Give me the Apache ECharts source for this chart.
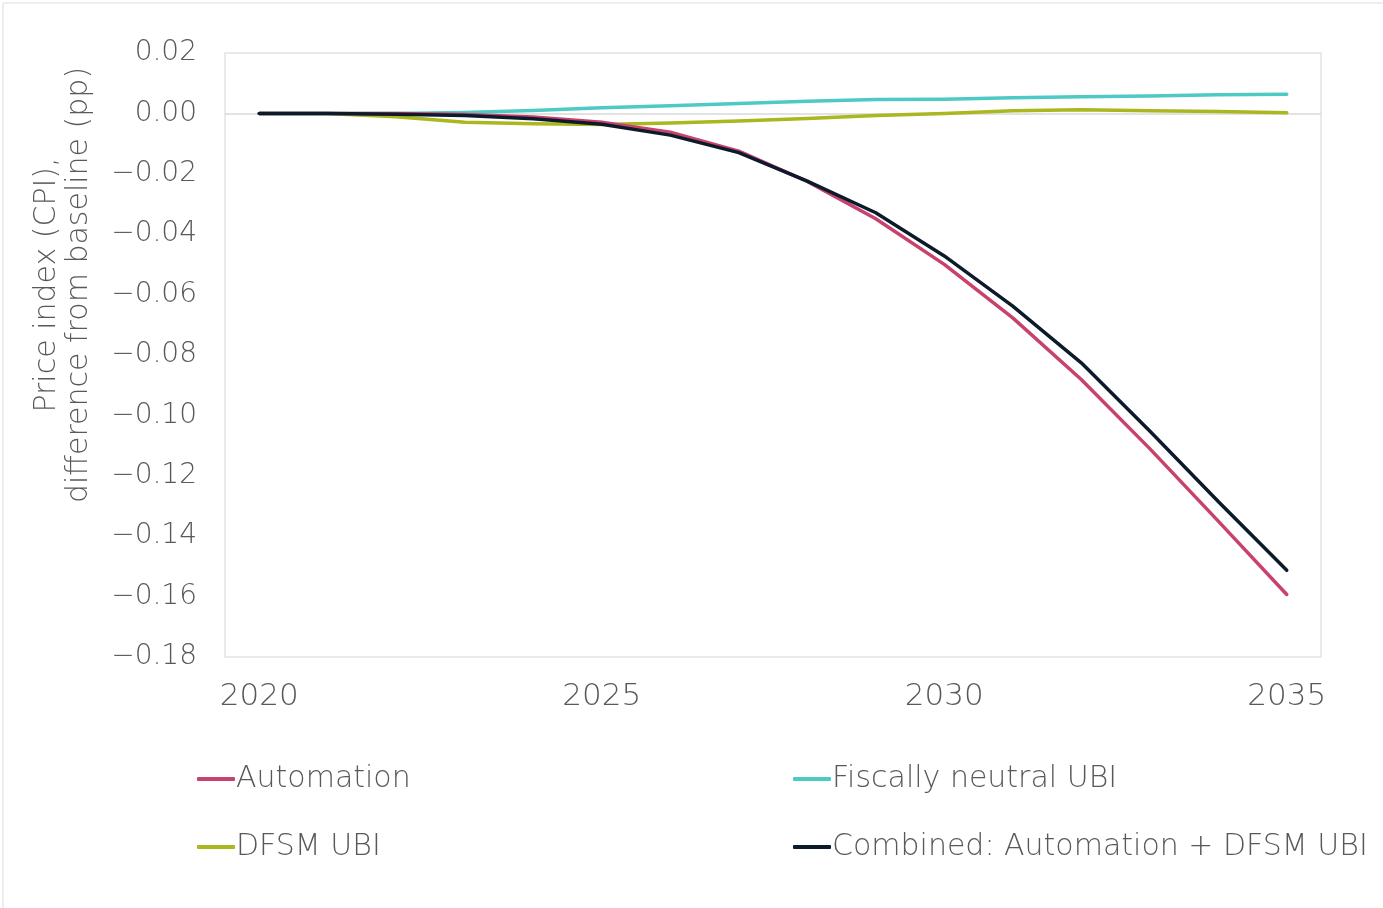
<!DOCTYPE html>
<html>
<head>
<meta charset="utf-8">
<script src="https://cdn.jsdelivr.net/npm/echarts@6/dist/echarts.min.js"></script>
<style>
  html, body { margin: 0; padding: 0; background: #fff; }
  #chart { width: 1383px; height: 908px; }
</style>
</head>
<body>
<div id="chart"></div>
<script>
// values
const years = ['2020', '2021', '2022', '2023', '2024', '2025', '2026', '2027',
  '2028', '2029', '2030', '2031', '2032', '2033', '2034', '2035'];
const automation = [0, 0, 0, -0.0004, -0.0012, -0.0029, -0.0062, -0.0125,
  -0.0225, -0.0349, -0.0500, -0.0677, -0.0881, -0.1110, -0.1350, -0.1593];
const fiscallyNeutral = [0, 0, 0, 0.0003, 0.0010, 0.0019, 0.0025, 0.0033,
  0.0040, 0.0046, 0.0047, 0.0052, 0.0055, 0.0058, 0.0062, 0.0063];
const dfsm = [0, 0, -0.0011, -0.0029, -0.0034, -0.0037, -0.0032, -0.0025,
  -0.0017, -0.0007, 0.0000, 0.0009, 0.0012, 0.0009, 0.0006, 0.0002];
const combined = [0, 0, -0.0003, -0.0007, -0.0018, -0.0036, -0.0072, -0.0130,
  -0.0224, -0.0329, -0.0472, -0.0638, -0.0826, -0.1052, -0.1285, -0.1513];

const seriesNames = ['Automation', 'Fiscally neutral UBI', 'DFSM UBI', 'Combined: Automation + DFSM UBI'];
const colors = ['#C8426E', '#4EC9C4', '#AAB71E', '#0C1B2B'];

const FONT = '"DejaVu Sans"';
const GREY = '#595959';

const chart = echarts.init(document.getElementById('chart'));

function line(name, data, color, z) {
  return {
    name: name,
    type: 'line',
    data: data,
    symbol: 'none',
    z: z,
    color: color,
    lineStyle: { color: color, width: 3.5, cap: 'round', join: 'round' }
  };
}

const legendCommon = {
  orient: 'vertical',
  icon: 'roundRect',
  itemWidth: 38,
  itemHeight: 4,
  itemGap: 38,
  textStyle: { fontFamily: FONT, fontWeight: 200, fontSize: 30, color: GREY, padding: [0, 0, 0, -4] }
};

const series = [
  line(seriesNames[0], automation, colors[0], 3),
  line(seriesNames[1], fiscallyNeutral, colors[1], 2),
  line(seriesNames[2], dfsm, colors[2], 2),
  line(seriesNames[3], combined, colors[3], 4)
];
// the horizontal axis line crosses at zero
series[0].markLine = {
  silent: true,
  symbol: 'none',
  label: { show: false },
  lineStyle: { color: '#D9D9D9', width: 1.5, type: 'solid' },
  data: [{ yAxis: 0 }],
  z: 1
};

const option = {
  backgroundColor: '#fff',
  animation: false,
  textStyle: { fontFamily: FONT },
  grid: {
    left: 225,
    right: 62,
    top: 53,
    bottom: 251,
    show: true,
    borderColor: '#E3E3E3',
    borderWidth: 1.5
  },
  legend: [
    Object.assign({ left: 192, top: 759, data: [seriesNames[0], seriesNames[2]] }, legendCommon),
    Object.assign({ left: 788, top: 759, data: [seriesNames[1], seriesNames[3]] }, legendCommon)
  ],
  graphic: [
    {
      type: 'rect',
      shape: { x: 3, y: 3, width: 1390, height: 910 },
      style: { fill: 'none', stroke: '#DDDDDD', lineWidth: 1 },
      silent: true
    },
    {
      type: 'text',
      x: 63,
      y: 285,
      rotation: Math.PI / 2,
      style: {
        text: 'Price index (CPI),\ndifference from baseline (pp)',
        fontFamily: FONT,
        fontWeight: 200,
        fontSize: 30,
        lineHeight: 32,
        fill: GREY,
        align: 'center',
        verticalAlign: 'middle'
      }
    }
  ],
  xAxis: {
    type: 'category',
    data: years,
    boundaryGap: true,
    axisLine: { show: false, onZero: false },
    axisTick: { show: false },
    axisLabel: {
      interval: 4,
      margin: 24,
      fontFamily: FONT,
      fontWeight: 200,
      fontSize: 31,
      color: GREY
    }
  },
  yAxis: {
    type: 'value',
    min: -0.18,
    max: 0.02,
    interval: 0.02,
    axisLine: { show: false },
    axisTick: { show: false },
    splitLine: { show: false },
    axisLabel: {
      margin: 28,
      fontFamily: FONT,
      fontWeight: 200,
      fontSize: 28,
      color: GREY,
      formatter: function (v) {
        return v.toFixed(2).replace('-', '\u2212');
      }
    }
  },
  series: series
};

chart.setOption(option);
</script>
</body>
</html>
